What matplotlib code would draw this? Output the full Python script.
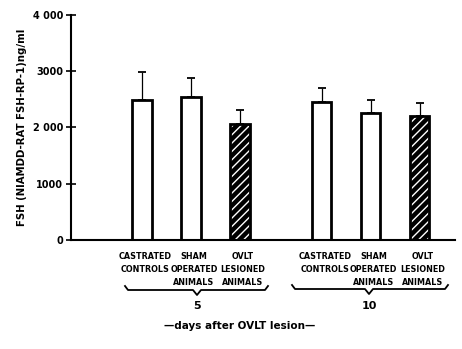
import matplotlib
matplotlib.use("Agg")
import matplotlib.pyplot as plt
import numpy as np

# ---- data ----
groups = ["5", "10"]
categories = ["CASTRATED\nCONTROLS", "SHAM\nOPERATED\nANIMALS", "OVLT\nLESIONED\nANIMALS"]
values_day5 = [2490, 2545, 2065]
errors_day5 = [500, 335, 245]
values_day10 = [2455, 2260, 2205]
errors_day10 = [245, 230, 230]
hatched = [False, False, True]
yticks = [0, 1000, 2000, 3000, 4000]
yticklabels = ["0", "1000", "2 000", "3000", "4 000"]

plt.rcParams['font.family'] = ['DejaVu Sans']
fig = plt.figure(figsize=(4.62, 3.49), dpi=100)
ax = fig.add_axes([71/462, 1-240/349, (455-71)/462, (240-15)/349])

width = 0.39
group_offsets = [0.0, 3.67]
all_vals = [values_day5, values_day10]
all_errs = [errors_day5, errors_day10]
for g, off in enumerate(group_offsets):
    xs = off + np.arange(3)
    vals = all_vals[g]
    errs = all_errs[g]
    ax.errorbar(xs, vals, yerr=[np.zeros(3), errs], fmt='none', ecolor='black',
                elinewidth=0.9, capsize=3, capthick=1.3, zorder=1)
    for i, x in enumerate(xs):
        if hatched[i]:
            ax.bar(x, vals[i], width, color='black', edgecolor='white', hatch='////',
                   linewidth=0, zorder=2)
            ax.bar(x, vals[i], width, fill=False, edgecolor='black', linewidth=2.0, zorder=3)
        else:
            ax.bar(x, vals[i], width, color='white', edgecolor='black', linewidth=2.0, zorder=2)
        ax.text(x + 0.06, -220, categories[i], ha='center', va='top', fontsize=5.8,
                fontweight='bold', linespacing=1.55, clip_on=False)

ax.set_xlim(-1.45, 6.39)
ax.set_ylim(0, 4000)
ax.set_xticks([])
ax.set_yticks(yticks)
ax.set_yticklabels(yticklabels, fontsize=7, fontweight='bold')
ax.tick_params(axis='y', direction='inout', length=7, width=1.2, pad=2)
for s in ['top', 'right']:
    ax.spines[s].set_visible(False)
ax.spines['left'].set_linewidth(1.5)
ax.spines['bottom'].set_linewidth(1.5)
ax.set_ylabel("FSH (NIAMDD-RAT FSH-RP-1)ng/ml", fontsize=7.3, fontweight='bold', labelpad=4)

# braces (figure pixel coordinates)
def brace(x0, x1, y, tip):
    px = [x0, x0 + 3, tip - 4, tip, tip + 4, x1 - 3, x1]
    py = [y - 4, y, y, y + 5, y, y, y - 4]
    fx = [p / 462 for p in px]
    fy = [1 - q / 349 for q in py]
    fig.add_artist(plt.Line2D(fx, fy, color='black', lw=1.3, transform=fig.transFigure))

brace(125, 268, 290, 197)
brace(292, 448, 289, 369)
fig.text(197/462, 1-306/349, groups[0], ha='center', va='center', fontsize=8, fontweight='bold')
fig.text(369/462, 1-306/349, groups[1], ha='center', va='center', fontsize=8, fontweight='bold')
fig.text(240/462, 1-326/349, "\u2014days after OVLT lesion\u2014", ha='center', va='center',
         fontsize=7.5, fontweight='bold')

fig.savefig("out.png", dpi=100)
